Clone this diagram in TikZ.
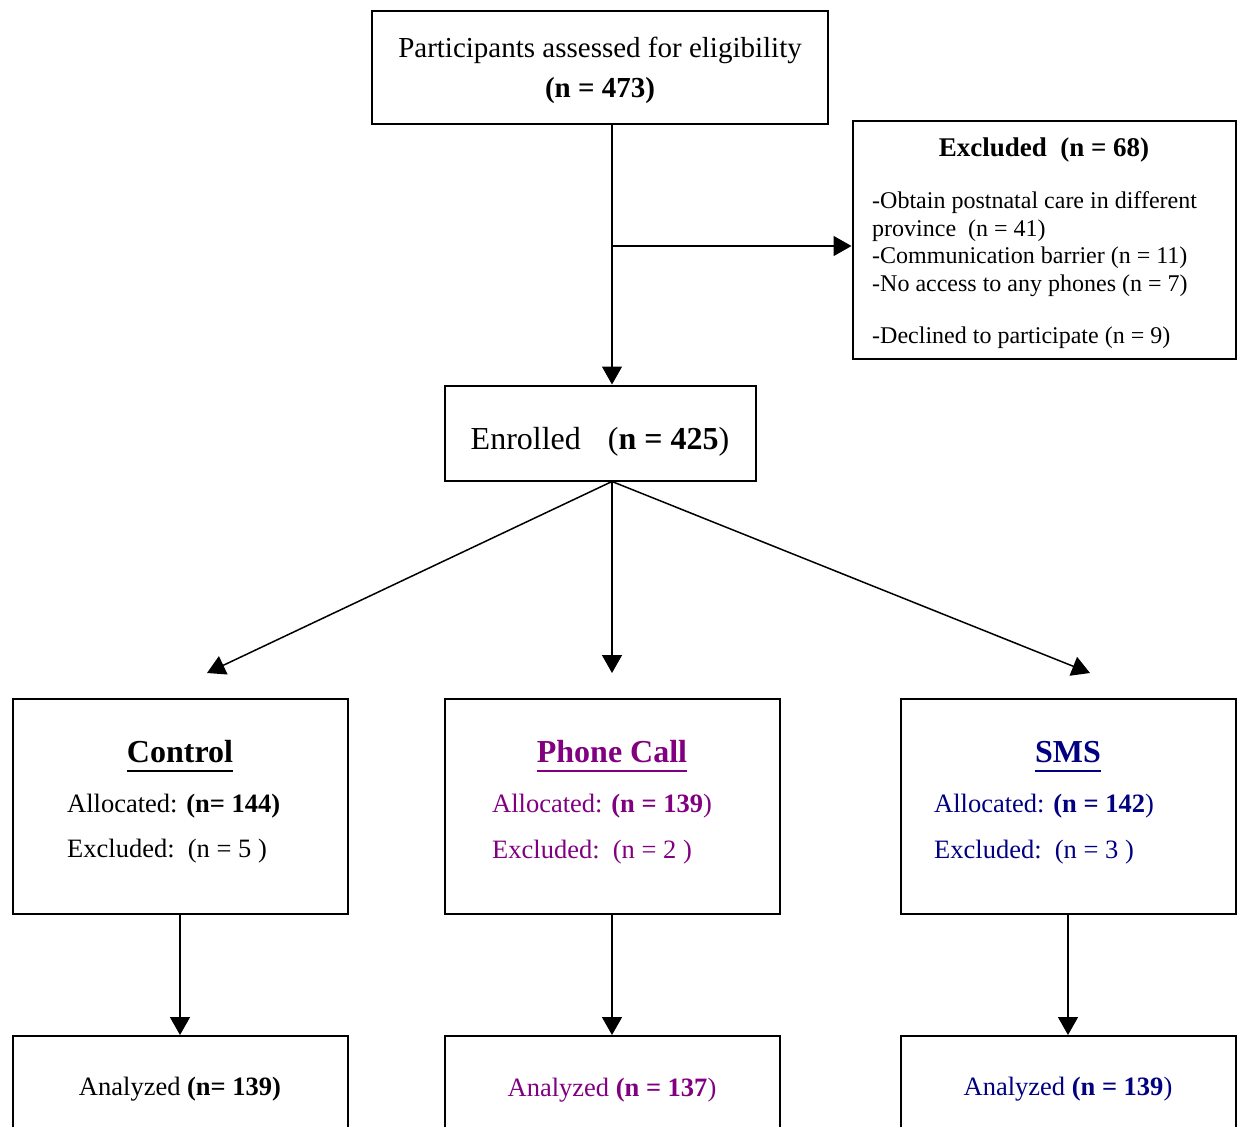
\documentclass[tikz,border=0pt]{standalone}
\usepackage{fontspec}
\setmainfont{Liberation Serif}
\usetikzlibrary{arrows.meta}
\definecolor{pcall}{RGB}{128,0,128}
\definecolor{smsc}{RGB}{0,0,128}
\newcommand\ulx[1]{\setbox0\hbox{#1}\rlap{\raisebox{-10pt}{\rule{\wd0}{2.4pt}}}\box0}
\begin{document}
\begin{tikzpicture}[x=1pt,y=-1pt,
  boxnode/.style={draw,line width=2pt,inner sep=0pt},
  txt/.style={inner sep=0pt,anchor=base},
  ltxt/.style={inner sep=0pt,anchor=base west},
  arr/.style={line width=1.5pt,-{Triangle[width=20pt,length=18pt]}},
  fbig/.style={font=\fontsize{29}{34}\selectfont},
  fenr/.style={font=\fontsize{32}{38}\selectfont},
  ftitle/.style={font=\fontsize{32}{38}\selectfont\bfseries},
  fmid/.style={font=\fontsize{26.5}{31}\selectfont},
  fsmall/.style={font=\fontsize{24}{28}\selectfont}]
\useasboundingbox (0,0) rectangle (1237,1127);
% boxes
\node[boxnode,minimum width=456pt,minimum height=113pt] (top) at (600,67.5) {};
\node[boxnode,minimum width=383pt,minimum height=238pt] (exc) at (1044,239.5) {};
\node[boxnode,minimum width=311pt,minimum height=95pt] (enr) at (600,433) {};
\node[boxnode,minimum width=335pt,minimum height=215pt] (ctl) at (180,806) {};
\node[boxnode,minimum width=335pt,minimum height=215pt] (ph) at (612,806) {};
\node[boxnode,minimum width=335pt,minimum height=215pt] (sms) at (1068,806) {};
\node[boxnode,minimum width=335pt,minimum height=200pt] (actl) at (180,1136) {};
\node[boxnode,minimum width=335pt,minimum height=200pt] (aph) at (612,1136) {};
\node[boxnode,minimum width=335pt,minimum height=200pt] (asms) at (1068,1136) {};
% texts
\node[txt,fbig] (t1) at (600,57) {Participants assessed for eligibility};
\node[txt,fbig] (t2) at (600,97) {\textbf{(n = 473)}};
\node[txt,font=\fontsize{27}{32}\selectfont\bfseries] (et) at (1044,156) {Excluded\ \ (n = 68)};
\node[ltxt,fsmall] (e1) at (872,208) {-Obtain postnatal care in different};
\node[ltxt,fsmall] (e2) at (872,236) {province\ \ (n = 41)};
\node[ltxt,fsmall] (e3) at (872,263) {-Communication barrier (n = 11)};
\node[ltxt,fsmall] (e4) at (872,291) {-No access to any phones (n = 7)};
\node[ltxt,fsmall] (e5) at (872,343) {-Declined to participate (n = 9)};
\node[txt,fenr] (et1) at (600,449) {Enrolled\hspace{27pt}(\textbf{n = 425})};
% control
\node[txt,ftitle] (ct) at (180,762) {\ulx{Control}};
\node[ltxt,fmid] (c1) at (67,812) {Allocated: \textbf{(n= 144)}};
\node[ltxt,fmid] (c2) at (67,857) {Excluded:\ \ (n = 5 )};
\node[txt,fmid] (ca) at (180,1095) {Analyzed \textbf{(n= 139)}};
% phone
\node[txt,ftitle,text=pcall] (pt) at (612,762) {\ulx{Phone Call}};
\node[ltxt,fmid,text=pcall] (p1) at (492,812) {Allocated: \textbf{(n = 139})};
\node[ltxt,fmid,text=pcall] (p2) at (492,858) {Excluded:\ \ (n = 2 )};
\node[txt,fmid,text=pcall] (pa) at (612,1096) {Analyzed \textbf{(n = 137})};
% sms
\node[txt,ftitle,text=smsc] (st) at (1068,762) {\ulx{SMS}};
\node[ltxt,fmid,text=smsc] (s1) at (934,812) {Allocated: \textbf{(n = 142})};
\node[ltxt,fmid,text=smsc] (s2) at (934,858) {Excluded:\ \ (n = 3 )};
\node[txt,fmid,text=smsc] (sa) at (1068,1095) {Analyzed \textbf{(n = 139})};
% connectors
\coordinate (sp) at (612,0);
\coordinate (br) at (612,246);
\coordinate (tipL) at (207,673);
\coordinate (tipC) at (612,673);
\coordinate (tipR) at (1090,673);
\draw[arr] (top.south -| sp) -- (enr.north -| sp);
\draw[arr] (br) -- (br -| exc.west);
\draw[arr] (enr.south -| sp) -- (tipL);
\draw[arr] (enr.south -| sp) -- (tipC);
\draw[arr] (enr.south -| sp) -- (tipR);
\draw[arr] (ctl.south) -- (actl.north);
\draw[arr] (ph.south) -- (aph.north);
\draw[arr] (sms.south) -- (asms.north);
\end{tikzpicture}
\end{document}
